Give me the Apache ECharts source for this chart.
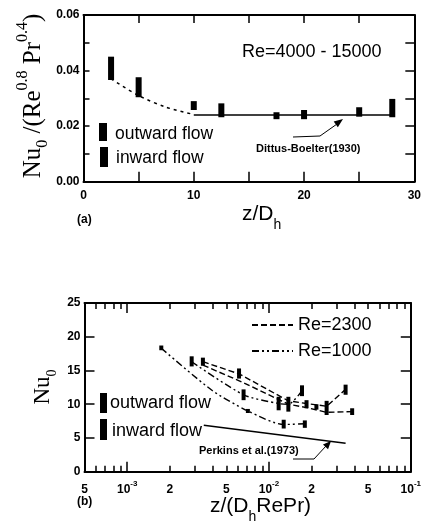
<!DOCTYPE html>
<html><head><meta charset="utf-8">
<script src="https://cdn.jsdelivr.net/npm/echarts@6/dist/echarts.min.js"></script>
<style>html,body{margin:0;padding:0;background:#fff}#c{width:424px;height:524px}</style>
</head><body><div id="c"></div>
<script>
// ---------- Panel (a) data ----------
const aPositions = [2.5, 5, 10, 12.5, 17.5, 20, 25, 28];
const aLow  = [0.0366, 0.0304, 0.0258, 0.0232, 0.0225, 0.0225, 0.0234, 0.0232];
const aHigh = [0.0450, 0.0376, 0.0290, 0.0282, 0.0250, 0.0258, 0.0268, 0.0298];
const aEntranceX = [2.5, 5, 7.5, 10];
const aEntranceY = [0.0370, 0.0310, 0.0268, 0.0242];
const aDittusX = [10, 28];
const aDittusY = [0.0240, 0.0240];

// ---------- Panel (b) data ----------
const bBarX    = [2.85e-3, 3.42e-3, 6.15e-3, 6.62e-3, 1.17e-2, 1.37e-2, 1.27e-2, 1.71e-2, 1.79e-2, 1.84e-2, 2.16e-2, 2.55e-2, 3.47e-2, 3.86e-2, 1.74e-3, 7.1e-3];
const bBarLow  = [15.6, 15.7, 13.8, 10.6, 9.1, 8.9, 6.4, 11.2, 6.5, 9.4, 9.2, 8.4, 11.4, 8.4, 18.0, 8.7];
const bBarHigh = [17.1, 16.9, 15.3, 12.2, 11.1, 11.1, 7.7, 12.8, 7.6, 10.6, 10.0, 10.5, 12.9, 9.4, 18.7, 9.3];
const re2300UpperX = [3.42e-3, 6.15e-3, 1.37e-2, 1.84e-2, 2.55e-2, 3.47e-2];
const re2300UpperY = [16.3, 14.5, 10.5, 10.1, 9.7, 12.2];
const re2300LowerX = [3.42e-3, 6.6e-3, 1.37e-2, 1.84e-2, 2.55e-2, 3.86e-2];
const re2300LowerY = [15.8, 13.2, 10.0, 9.5, 8.8, 8.9];
const re1000UpperX = [2.85e-3, 6.62e-3, 1.17e-2, 1.37e-2, 1.71e-2];
const re1000UpperY = [16.3, 11.4, 10.1, 10.0, 12.0];
const re1000LowerX = [1.74e-3, 4.0e-3, 7.1e-3, 1.27e-2, 1.79e-2];
const re1000LowerY = [18.3, 12.0, 9.0, 7.0, 7.1];
const perkinsX = [3.47e-3, 3.47e-2];
const perkinsY = [6.9, 4.2];
const bXLabelValues = [5e-4, 1e-3, 2e-3, 5e-3, 1e-2, 2e-2, 5e-2, 1e-1];
const bMajorTicks = [1e-3, 1e-2, 1e-1];
const bMinorTicks = [6e-4, 7e-4, 8e-4, 9e-4, 2e-3, 3e-3, 4e-3, 5e-3, 6e-3, 7e-3, 8e-3, 9e-3, 2e-2, 3e-2, 4e-2, 5e-2, 6e-2, 7e-2, 8e-2, 9e-2];

const zip = (xs, ys) => xs.map((x, i) => [x, ys[i]]);
const zip3 = (xs, a, b) => xs.map((x, i) => [x, a[i], b[i]]);

const SANS = '"Liberation Sans", Arial, sans-serif';
const SERIF = '"Liberation Serif", "Times New Roman", serif';
const BLACK = '#000';

function rangeBar(w) {
  return function (params, api) {
    const x = api.value(0), lo = api.value(1), hi = api.value(2);
    const p1 = api.coord([x, hi]), p2 = api.coord([x, lo]);
    return { type: 'rect', shape: { x: p1[0] - w / 2, y: p1[1], width: w, height: Math.max(2, p2[1] - p1[1]) }, style: { fill: BLACK } };
  };
}

const axLine = { show: true, onZero: false, lineStyle: { color: BLACK, width: 2 } };
const noLine = { show: false, onZero: false };
const tickLbl = { color: BLACK, fontFamily: SANS, fontWeight: 'bold', fontSize: 12 };

function logX(pos, ticks, len, showLine, labels) {
  return {
    gridIndex: 1, type: 'log', logBase: 10, min: 5e-4, max: 1e-1, position: pos,
    axisLine: showLine ? axLine : noLine,
    axisTick: { show: true, inside: true, length: len, customValues: ticks, lineStyle: { color: BLACK, width: 1.5 } },
    axisLabel: labels ? {
      show: true, customValues: bXLabelValues, margin: 8, ...tickLbl,
      formatter: function (v) {
        const e = Math.log10(v);
        if (Math.abs(e - Math.round(e)) < 1e-6) return '{b|10}{s|' + Math.round(e) + '}';
        return '{b|' + Math.round(v / Math.pow(10, Math.floor(e))) + '}';
      },
      rich: { b: { fontFamily: SANS, fontWeight: 'bold', fontSize: 12, lineHeight: 16, verticalAlign: 'bottom' },
              s: { fontFamily: SANS, fontWeight: 'bold', fontSize: 8, lineHeight: 16, verticalAlign: 'top' } }
    } : { show: false },
    splitLine: { show: false }
  };
}

function arrowHead(tip, from, len, half) {
  const dx = tip[0] - from[0], dy = tip[1] - from[1];
  const d = Math.hypot(dx, dy), ux = dx / d, uy = dy / d;
  const bx = tip[0] - ux * len, by = tip[1] - uy * len;
  return { type: 'polygon', shape: { points: [tip, [bx - uy * half, by + ux * half], [bx + uy * half, by - ux * half]] }, style: { fill: BLACK } };
}

const chart = echarts.init(document.getElementById('c'), null, { renderer: 'canvas' });
const option = {
  backgroundColor: '#fff',
  animation: false,
  grid: [
    { left: 83.5, top: 15, width: 334.5, height: 166.7 },
    { left: 84.5, top: 303, width: 334, height: 168.7 }
  ],
  xAxis: [
    { gridIndex: 0, type: 'value', min: 0, max: 30, interval: 5, position: 'bottom', axisLine: axLine,
      axisTick: { inside: true, length: 10, lineStyle: { color: BLACK, width: 1.5 } },
      axisLabel: { ...tickLbl, margin: 8, formatter: v => (v % 10 === 0 ? String(v) : '') },
      splitLine: { show: false } },
    { gridIndex: 0, type: 'value', min: 0, max: 30, interval: 5, position: 'top', axisLine: axLine,
      axisTick: { inside: true, length: 8, lineStyle: { color: BLACK, width: 1.5 } },
      axisLabel: { show: false }, splitLine: { show: false } },
    logX('bottom', bMajorTicks, 10, true, true),
    logX('bottom', bMinorTicks, 6, false, false),
    logX('top', bMajorTicks, 10, true, false),
    logX('top', bMinorTicks, 6, false, false)
  ],
  yAxis: [
    { gridIndex: 0, type: 'value', min: 0, max: 0.06, interval: 0.01, position: 'left', axisLine: axLine,
      axisTick: { inside: true, length: 6, lineStyle: { color: BLACK, width: 1.5 } },
      axisLabel: { ...tickLbl, margin: 4, formatter: v => (Math.round(v * 100) % 2 === 0 ? v.toFixed(2) : '') },
      splitLine: { show: false } },
    { gridIndex: 0, type: 'value', min: 0, max: 0.06, interval: 0.01, position: 'right', axisLine: axLine,
      axisTick: { inside: true, length: 9, lineStyle: { color: BLACK, width: 1.5 } },
      axisLabel: { show: false }, splitLine: { show: false } },
    { gridIndex: 1, type: 'value', min: 0, max: 25, interval: 5, position: 'left', axisLine: axLine,
      axisTick: { inside: true, length: 10, lineStyle: { color: BLACK, width: 1.5 } },
      axisLabel: { ...tickLbl, margin: 4 }, splitLine: { show: false } },
    { gridIndex: 1, type: 'value', min: 0, max: 25, interval: 5, position: 'right', axisLine: axLine,
      axisTick: { inside: true, length: 10, lineStyle: { color: BLACK, width: 1.5 } },
      axisLabel: { show: false }, splitLine: { show: false } }
  ],
  series: [
    { name: 'entrance', type: 'line', xAxisIndex: 0, yAxisIndex: 0, data: zip(aEntranceX, aEntranceY), smooth: 0.3,
      showSymbol: false, lineStyle: { color: BLACK, width: 1.5, type: [3, 4] } },
    { name: 'Dittus-Boelter', type: 'line', xAxisIndex: 0, yAxisIndex: 0, data: zip(aDittusX, aDittusY),
      showSymbol: false, lineStyle: { color: BLACK, width: 1.5 } },
    { name: 'a bars', type: 'custom', xAxisIndex: 0, yAxisIndex: 0, renderItem: rangeBar(6),
      encode: { x: 0, y: [1, 2] }, data: zip3(aPositions, aLow, aHigh), z: 5 },

    { name: 'Re=2300 upper', type: 'line', xAxisIndex: 2, yAxisIndex: 2, data: zip(re2300UpperX, re2300UpperY),
      showSymbol: false, lineStyle: { color: BLACK, width: 1.4, type: [6, 3] } },
    { name: 'Re=2300 lower', type: 'line', xAxisIndex: 2, yAxisIndex: 2, data: zip(re2300LowerX, re2300LowerY),
      showSymbol: false, lineStyle: { color: BLACK, width: 1.4, type: [6, 3] } },
    { name: 'Re=1000 upper', type: 'line', xAxisIndex: 2, yAxisIndex: 2, data: zip(re1000UpperX, re1000UpperY), smooth: 0.25,
      showSymbol: false, lineStyle: { color: BLACK, width: 1.4, type: [7, 3, 2, 3, 2, 3] } },
    { name: 'Re=1000 lower', type: 'line', xAxisIndex: 2, yAxisIndex: 2, data: zip(re1000LowerX, re1000LowerY), smooth: 0.25,
      showSymbol: false, lineStyle: { color: BLACK, width: 1.4, type: [7, 3, 2, 3, 2, 3] } },
    { name: 'Perkins', type: 'line', xAxisIndex: 2, yAxisIndex: 2, data: zip(perkinsX, perkinsY),
      showSymbol: false, lineStyle: { color: BLACK, width: 1.5 } },
    { name: 'b bars', type: 'custom', xAxisIndex: 2, yAxisIndex: 2, renderItem: rangeBar(4),
      encode: { x: 0, y: [1, 2] }, data: zip3(bBarX, bBarLow, bBarHigh), z: 5 }
  ],
  graphic: [
    // panel (a) texts
    { type: 'text', x: 242, y: 52, style: { text: 'Re=4000 - 15000', fontFamily: SANS, fontSize: 18, fill: BLACK, verticalAlign: 'middle' } },
    { type: 'rect', shape: { x: 99, y: 123, width: 8, height: 18 }, style: { fill: BLACK } },
    { type: 'rect', shape: { x: 100, y: 147, width: 8, height: 20 }, style: { fill: BLACK } },
    { type: 'text', x: 115, y: 134, style: { text: 'outward flow', fontFamily: SANS, fontSize: 17.5, fill: BLACK, verticalAlign: 'middle' } },
    { type: 'text', x: 116, y: 158, style: { text: 'inward flow', fontFamily: SANS, fontSize: 17.5, fill: BLACK, verticalAlign: 'middle' } },
    { type: 'text', x: 256, y: 149, style: { text: 'Dittus-Boelter(1930)', fontFamily: SANS, fontWeight: 'bold', fontSize: 11, fill: BLACK, verticalAlign: 'middle' } },
    { type: 'polyline', shape: { points: [[293, 137], [320, 136], [337, 124]] }, style: { stroke: BLACK, lineWidth: 1, fill: 'none' } },
    arrowHead([343, 119], [320, 136], 9, 3.5),
    { type: 'text', x: 77, y: 220, style: { text: '(a)', fontFamily: SANS, fontWeight: 'bold', fontSize: 12, fill: BLACK, verticalAlign: 'middle' } },
    { type: 'text', x: 242, y: 218, style: { text: '{a|z/D}{s|h}', verticalAlign: 'middle',
      rich: { a: { fontFamily: SANS, fontSize: 21, lineHeight: 28, verticalAlign: 'top', fill: BLACK },
              s: { fontFamily: SANS, fontSize: 14, lineHeight: 28, verticalAlign: 'bottom', fill: BLACK } } } },
    { type: 'text', x: 33, y: 96, rotation: Math.PI / 2, style: { text: '{a|Nu}{s|0}{a| /(Re}{p|0.8}{a| Pr}{p|0.4}{a|)}', align: 'center', verticalAlign: 'middle',
      rich: { a: { fontFamily: SERIF, fontSize: 25, lineHeight: 36, verticalAlign: 'middle', fill: BLACK },
              s: { fontFamily: SERIF, fontSize: 16, lineHeight: 36, verticalAlign: 'bottom', fill: BLACK },
              p: { fontFamily: SERIF, fontSize: 16, lineHeight: 36, verticalAlign: 'top', fill: BLACK } } } },

    // panel (b) texts
    { type: 'line', shape: { x1: 252, y1: 325, x2: 293, y2: 325 }, style: { stroke: BLACK, lineWidth: 2, lineDash: [6, 3] } },
    { type: 'line', shape: { x1: 252, y1: 351, x2: 293, y2: 351 }, style: { stroke: BLACK, lineWidth: 2, lineDash: [7, 3, 2, 3, 2, 3] } },
    { type: 'text', x: 298, y: 325, style: { text: 'Re=2300', fontFamily: SANS, fontSize: 18, fill: BLACK, verticalAlign: 'middle' } },
    { type: 'text', x: 298, y: 351, style: { text: 'Re=1000', fontFamily: SANS, fontSize: 18, fill: BLACK, verticalAlign: 'middle' } },
    { type: 'rect', shape: { x: 100, y: 393, width: 7, height: 20 }, style: { fill: BLACK } },
    { type: 'rect', shape: { x: 100, y: 419, width: 7, height: 21 }, style: { fill: BLACK } },
    { type: 'text', x: 110, y: 403, style: { text: 'outward flow', fontFamily: SANS, fontSize: 18, fill: BLACK, verticalAlign: 'middle' } },
    { type: 'text', x: 112, y: 431, style: { text: 'inward flow', fontFamily: SANS, fontSize: 18, fill: BLACK, verticalAlign: 'middle' } },
    { type: 'text', x: 199, y: 451, style: { text: 'Perkins et al.(1973)', fontFamily: SANS, fontWeight: 'bold', fontSize: 11, fill: BLACK, verticalAlign: 'middle' } },
    { type: 'polyline', shape: { points: [[293, 459], [314, 459], [326, 446]] }, style: { stroke: BLACK, lineWidth: 1, fill: 'none' } },
    arrowHead([331, 441], [314, 459], 8, 3.5),
    { type: 'text', x: 77, y: 502, style: { text: '(b)', fontFamily: SANS, fontWeight: 'bold', fontSize: 12, fill: BLACK, verticalAlign: 'middle' } },
    { type: 'text', x: 210, y: 510, style: { text: '{a|z/(D}{s|h}{a|RePr)}', verticalAlign: 'middle',
      rich: { a: { fontFamily: SANS, fontSize: 21, lineHeight: 28, verticalAlign: 'top', fill: BLACK },
              s: { fontFamily: SANS, fontSize: 14, lineHeight: 28, verticalAlign: 'bottom', fill: BLACK } } } },
    { type: 'text', x: 43, y: 387, rotation: Math.PI / 2, style: { text: '{a|Nu}{s|0}', align: 'center', verticalAlign: 'middle',
      rich: { a: { fontFamily: SERIF, fontSize: 23, lineHeight: 32, verticalAlign: 'middle', fill: BLACK },
              s: { fontFamily: SERIF, fontSize: 14, lineHeight: 32, verticalAlign: 'bottom', fill: BLACK } } } }
  ]
};
chart.setOption(option);
</script>
</body></html>
